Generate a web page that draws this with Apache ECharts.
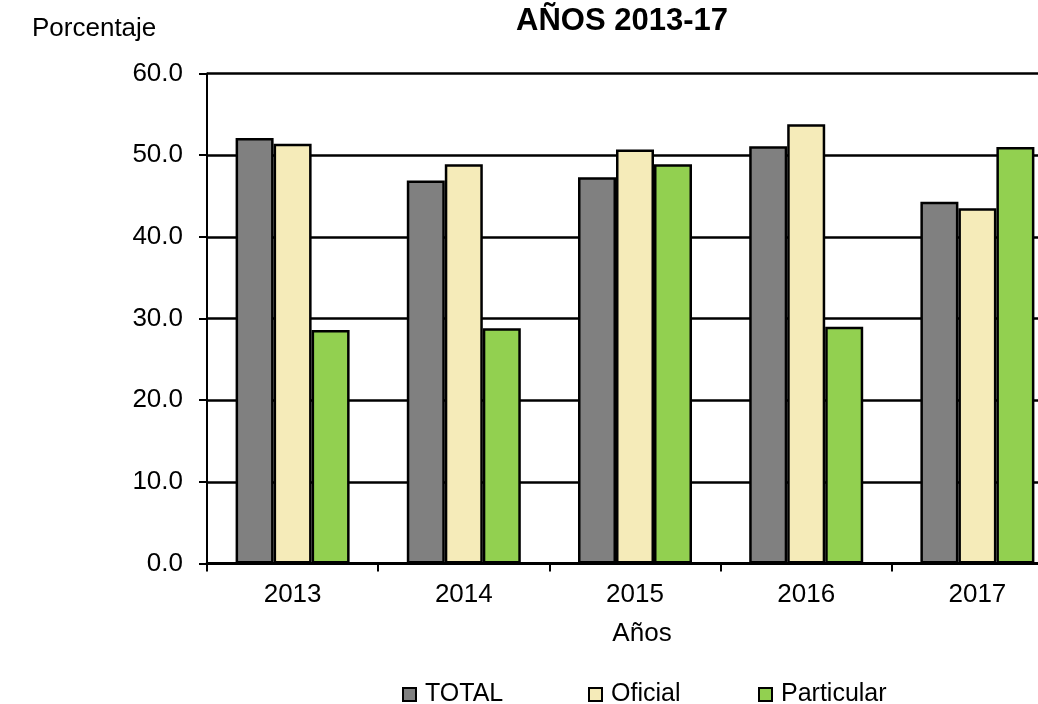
<!DOCTYPE html>
<html>
<head>
<meta charset="utf-8">
<script src="https://cdn.jsdelivr.net/npm/echarts@6/dist/echarts.min.js"></script>
<style>
html,body{margin:0;padding:0;background:#fff;overflow:hidden;}
#chart{width:1063px;height:704px;}
</style>
</head>
<body>
<div id="chart"></div>
<script>
const categories = ['2013', '2014', '2015', '2016', '2017'];
const seriesNames = ['TOTAL', 'Oficial', 'Particular'];
const totalValues = [52.1, 46.9, 47.3, 51.1, 44.3];
const oficialValues = [51.4, 48.9, 50.7, 53.8, 43.5];
const particularValues = [28.6, 28.8, 48.9, 29.0, 51.0];
const yTicks = [0, 10, 20, 30, 40, 50, 60];

const colors = ['#808080', '#F5EBB9', '#92D050'];
const values = [totalValues, oficialValues, particularValues];
const FONT = '"Liberation Sans", Arial, sans-serif';

const chart = echarts.init(document.getElementById('chart'), null, {renderer: 'canvas'});

const legendLefts = [402, 588, 758];

chart.setOption({
  animation: false,
  backgroundColor: '#ffffff',
  title: [
    {
      text: 'AÑOS 2013-17',
      left: 511, top: 1,
      textStyle: {fontFamily: FONT, fontWeight: 'bold', fontSize: 31, color: '#000'}
    },
    {
      text: 'Porcentaje',
      left: 27, top: 11,
      textStyle: {fontFamily: FONT, fontWeight: 'normal', fontSize: 26, color: '#000'}
    }
  ],
  legend: seriesNames.map((n, i) => ({
    data: [{name: n, icon: 'rect'}],
    left: legendLefts[i],
    top: 682,
    itemWidth: 13,
    itemHeight: 13,
    padding: 0,
    selectedMode: false,
    textStyle: {fontFamily: FONT, fontSize: 25, color: '#000', padding: [0, 0, 0, 4]},
    itemStyle: {borderColor: '#000', borderWidth: 2}
  })),
  grid: {left: 207, right: 0, top: 73.5, bottom: 140.5, containLabel: false},
  xAxis: {
    type: 'category',
    data: categories,
    name: 'Años',
    nameLocation: 'middle',
    nameGap: 57,
    nameTextStyle: {fontFamily: FONT, fontSize: 26, color: '#000', padding: [0, 0, 0, 14]},
    axisLine: {lineStyle: {color: '#000', width: 3}},
    axisTick: {show: true, length: 8, lineStyle: {color: '#000', width: 2}},
    axisLabel: {fontFamily: FONT, fontSize: 26, color: '#000', margin: 18},
    splitLine: {show: false}
  },
  yAxis: {
    type: 'value',
    min: yTicks[0],
    max: yTicks[yTicks.length - 1],
    interval: 10,
    axisLine: {show: true, lineStyle: {color: '#000', width: 2}},
    axisTick: {show: true, length: 8, lineStyle: {color: '#000', width: 2}},
    axisLabel: {fontFamily: FONT, fontSize: 26, color: '#000', margin: 24,
      formatter: v => v.toFixed(1)},
    splitLine: {show: true, lineStyle: {color: '#000', width: 2.5}}
  },
  series: seriesNames.map((n, i) => ({
    name: n,
    type: 'bar',
    data: values[i],
    barWidth: 38,
    barGap: '0%',
    itemStyle: {color: colors[i], borderColor: '#000', borderWidth: 2.5},
    emphasis: {disabled: true}
  }))
});
</script>
</body>
</html>
